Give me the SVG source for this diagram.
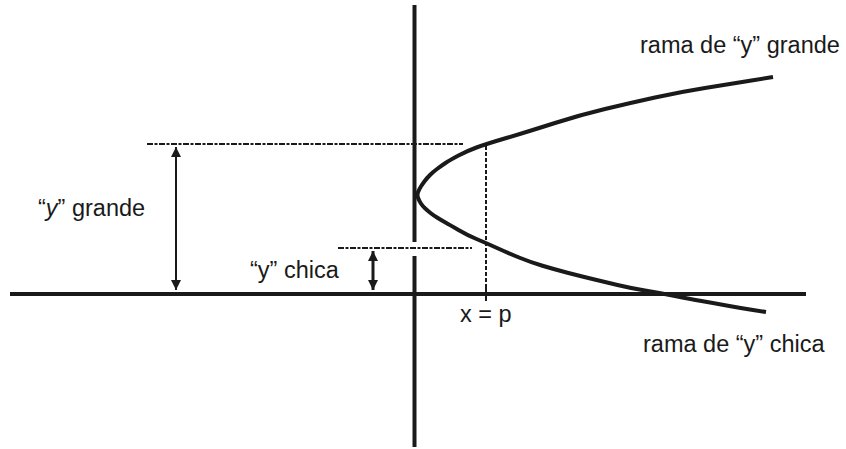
<svg xmlns="http://www.w3.org/2000/svg" width="846" height="449" viewBox="0 0 846 449">
<style>
  text { font-family: "Liberation Sans", Arial, sans-serif; font-size: 23.5px; fill: #1a1a1a; }
  .axis { stroke: #1a1a1a; stroke-width: 4; fill: none; }
  .curve { stroke: #1a1a1a; stroke-width: 4; fill: none; stroke-linejoin: round; stroke-linecap: butt; }
  .dashdot { stroke: #1a1a1a; stroke-width: 1.8; fill: none; stroke-dasharray: 6 1.5 3 1.5; }
  .dash { stroke: #1a1a1a; stroke-width: 2; fill: none; stroke-dasharray: 4 2; }
  .tick { stroke: #1a1a1a; stroke-width: 2; fill: none; }
  .dim { stroke: #1a1a1a; fill: none; }
</style>
<defs>
  <marker id="ah" viewBox="0 0 10 10" refX="10" refY="5" markerWidth="10" markerHeight="10" markerUnits="userSpaceOnUse" orient="auto-start-reverse">
    <path d="M0,0 L10,5 L0,10 Z" fill="#1a1a1a"/>
  </marker>
</defs>
<rect width="846" height="449" fill="#ffffff"/>
<g id="axes">
  <line class="axis" x1="10" y1="294" x2="806" y2="294"/>
  <line class="axis" x1="414.5" y1="5" x2="414.5" y2="242"/>
  <line class="axis" x1="414.5" y1="256" x2="414.5" y2="447"/>
</g>
<g id="parabola">
  <path class="curve" d="M773,77 L751.5,80.5 Q730,84 705,88 Q680,92 655,97.5 Q630,103 605,109 Q580,115 555,123 Q530,131 508,137.5 Q486,144 476.5,147.5 Q467,151 458.5,155.5 Q450,160 445.5,163 Q441,166 437,169 Q433,172 430,175 Q427,178 424.75,181 Q422.5,184 420.75,186.75 Q419,189.5 418,192.25 Q417,195 418,197.75 Q419,200.5 420.75,203.25 Q422.5,206 425.25,208.5 Q428,211 430.5,213 Q433,215 437,217.5 Q441,220 445.5,222.5 Q450,225 458.5,230 Q467,235 476.5,239 Q486,243 497,248 Q508,253 519,257.5 Q530,262 542.5,265.75 Q555,269.5 567.5,272.75 Q580,276 592.5,279 Q605,282 617.5,285 Q630,288 645,290.5 Q660,293 675,296 Q690,299 701.5,301 Q713,303 726.5,305.5 Q740,308 753,310 L766,312"/>
</g>
<g id="connectors">
  <line class="dashdot" x1="147" y1="144" x2="463" y2="144"/>
  <line class="dashdot" x1="338" y1="248" x2="472" y2="248"/>
  <line class="dash" x1="486" y1="146" x2="486" y2="284"/>
  <line class="tick" x1="486" y1="284" x2="486" y2="301"/>
  <line class="dim" stroke-width="2" x1="176" y1="147" x2="176" y2="290" marker-start="url(#ah)" marker-end="url(#ah)"/>
  <line class="dim" stroke-width="3" x1="373" y1="251" x2="373" y2="290" marker-start="url(#ah)" marker-end="url(#ah)"/>
</g>
<g id="label-y-grande">
  <text x="38" y="216">“<tspan font-style="italic">y</tspan>” grande</text>
</g>
<g id="label-y-chica">
  <text x="250" y="278">“y” chica</text>
</g>
<g id="label-x-p">
  <text x="460" y="322">x = p</text>
</g>
<g id="label-rama-grande">
  <text x="640" y="53">rama de “y” grande</text>
</g>
<g id="label-rama-chica">
  <text x="643" y="352">rama de “y” chica</text>
</g>
</svg>
